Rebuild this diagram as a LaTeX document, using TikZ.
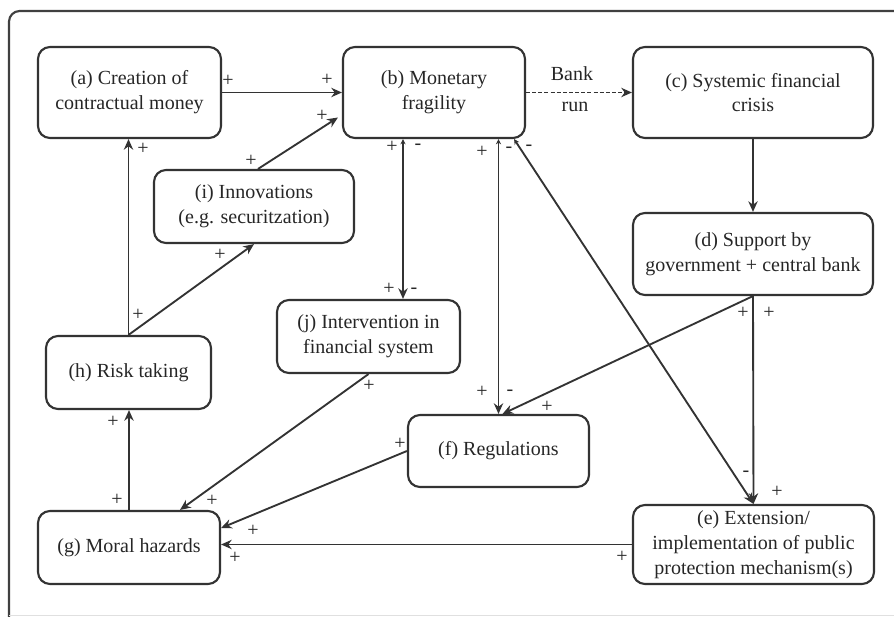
\documentclass[tikz,border=0pt]{standalone}
\usepackage{fontspec}
\setmainfont{Liberation Serif}
\newfontfamily\boxfont{Liberation Serif}
\usetikzlibrary{arrows.meta,calc}

\begin{document}
\begin{tikzpicture}[x=0.75pt,y=-0.75pt,
  every node/.style={text=black!85},
  wh/.style 2 args={minimum width=#1*0.75pt, minimum height=#2*0.75pt},
  box/.style={draw=black!80, line width=1.6pt, rounded corners=9pt, align=center,
              inner sep=0pt, font=\boxfont\fontsize{15}{18.6}\selectfont},
  arr/.style={draw=black!80, line width=1.4pt, -{Stealth[length=8pt,width=7pt]}},
  biarr/.style={draw=black!80, line width=1.4pt,
                {Stealth[length=4pt,width=4pt]}-{Stealth[length=8pt,width=7pt]}},
  sgn/.style={font=\boxfont\fontsize{15}{15}\selectfont, inner sep=0pt},
  lbl/.style={font=\boxfont\fontsize{15}{15}\selectfont, inner sep=0pt}]

\useasboundingbox (0,0) rectangle (894,617);

% outer frame
\draw[black!75, line width=1.6pt, rounded corners=8pt] (9,620) -- (9,11) -- (900,11);
\draw[black!12, line width=1pt] (9,615.5) -- (894,615.5);

% boxes
\node[box, wh={183}{91}] (a) at (129.5,92.5) {(a) Creation of\\contractual money};
\node[box, wh={182}{91}] (b) at (434,92.5) {(b) Monetary\\fragility};
\node[box, wh={240}{91}] (c) at (753,92.5) {(c) Systemic financial\\crisis};
\node[box, wh={240}{82}] (d) at (753,254) {(d) Support by\\government + central bank};
\node[box, wh={200}{73}] (i) at (254,206.5) {(i) Innovations\\(e.g. securitzation)};
\node[box, wh={165}{73}] (h) at (128.5,372.5) {(h) Risk taking};
\node[box, wh={183}{73}] (j) at (368.5,336.5) {(j) Intervention in\\financial system};
\node[box, wh={181}{72}] (f) at (498.5,451) {(f) Regulations};
\node[box, wh={182}{73}] (g) at (129,547.5) {(g) Moral hazards};
\node[box, wh={241}{79}] (e) at (753.5,544.5) {(e) Extension/\\implementation of public\\protection mechanism(s)};

% connectors
\draw[arr] (a.east) -- (b.west);
\draw[arr, dash pattern=on 3pt off 1.6pt] (b.east) -- (c.west);
\node[lbl] (bank) at (572,74) {Bank};
\node[lbl] (run) at (575,107) {run};
\draw[arr] (c.south) -- (d.north);
\draw[arr] (d.south) -- (e.north);
\draw[arr] (d.south) -- ($(f.north)+(4,0)$);
\draw[arr] ($(i.north)+(4,0)$) -- ($(b.west)+(-4,25)$);
\draw[arr] (h.north) -- (i.south);
\draw[arr] (h.north) -- (h.north |- a.south);
\draw[arr] (g.north) -- (g.north |- h.south);
\coordinate (jb) at ($(j.north)+(34.5,0)$);
\draw[biarr] (jb |- b.south) -- (jb);
\draw[biarr] (f.north |- b.south) -- (f.north);
\draw[biarr] ($(b.south east)+(-12,0)$) -- (e.north);
\draw[arr] (j.south) -- ($(g.north)+(51,0)$);
\draw[arr] (f.west) -- ($(g.east)+(0,-19.5)$);
\draw[arr] (e.west) -- (e.west -| g.east);

% polarity signs
\node[sgn] (s1) at (228,81) {+};
\node[sgn] (s2) at (327,80) {+};
\node[sgn] (s3) at (322,116) {+};
\node[sgn] (s4) at (251,161) {+};
\node[sgn] (s5) at (143,149) {+};
\node[sgn] (s6) at (220,255) {+};
\node[sgn] (s7) at (138,315) {+};
\node[sgn] (s8) at (113,422) {+};
\node[sgn] (s9) at (117,500) {+};
\node[sgn] (s10) at (212,501) {+};
\node[sgn] (s11) at (253,531) {+};
\node[sgn] (s12) at (235,558) {+};
\node[sgn] (s13) at (369,386) {+};
\node[sgn] (s14) at (400,444) {+};
\node[sgn] (s15) at (392,147) {+};
\node[sgn] (s16) at (418,147) {-};
\node[sgn] (s17) at (482,152) {+};
\node[sgn] (s18) at (509,150) {-};
\node[sgn] (s19) at (529,148) {-};
\node[sgn] (s20) at (389,289) {+};
\node[sgn] (s21) at (414,291) {-};
\node[sgn] (s22) at (482,392) {+};
\node[sgn] (s23) at (510,393) {-};
\node[sgn] (s24) at (547,407) {+};
\node[sgn] (s25) at (743,313) {+};
\node[sgn] (s26) at (769,313) {+};
\node[sgn] (s27) at (746,474) {-};
\node[sgn] (s28) at (777,492) {+};
\node[sgn] (s29) at (622,557) {+};

\end{tikzpicture}
\end{document}
